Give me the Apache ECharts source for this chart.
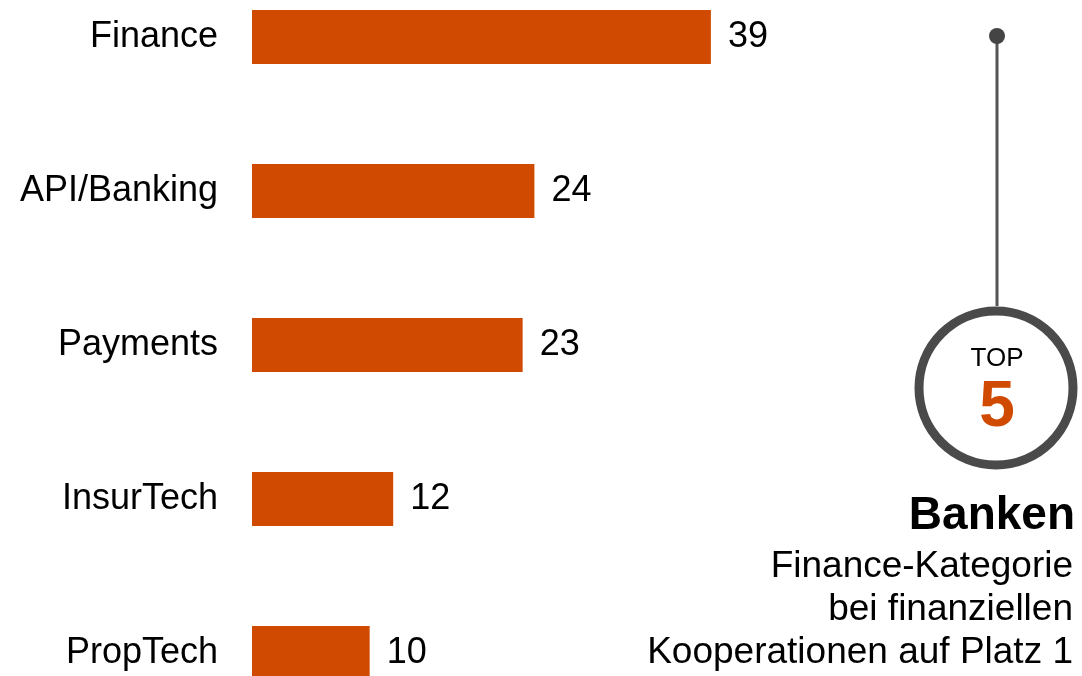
<!DOCTYPE html>
<html>
<head>
<meta charset="utf-8">
<script src="https://cdn.jsdelivr.net/npm/echarts@6/dist/echarts.min.js"></script>
<style>
  html, body { margin: 0; padding: 0; background: #fff; }
  #chart { width: 1082px; height: 676px; }
</style>
</head>
<body>
<div id="chart"></div>
<script>
const categories = ['Finance', 'API/Banking', 'Payments', 'InsurTech', 'PropTech'];
const values = [39, 24, 23, 12, 10];
const badgeTop = 'TOP';
const badgeNumber = '5';
const calloutTitle = 'Banken';
const calloutLines = ['Finance-Kategorie', 'bei finanziellen', 'Kooperationen auf Platz 1'];

const orange = '#D04A02';
const grey = '#4a4a4a';
const font = '"Liberation Sans", Arial, sans-serif';

const chart = echarts.init(document.getElementById('chart'));

const option = {
    backgroundColor: '#fff',
    animation: false,
    grid: {
        left: 252,
        top: -40,
        height: 770,
        width: 706,
        outerBoundsMode: 'none'
    },
    xAxis: {
        type: 'value',
        min: 0,
        max: 60,
        show: false
    },
    yAxis: {
        type: 'category',
        data: categories,
        inverse: true,
        axisLine: { show: false },
        axisTick: { show: false },
        axisLabel: {
            margin: 34,
            fontSize: 36,
            fontFamily: font,
            color: '#000'
        }
    },
    series: [
        {
            type: 'bar',
            data: values,
            barWidth: 54,
            itemStyle: { color: orange },
            label: {
                show: true,
                position: 'right',
                distance: 17,
                fontSize: 36,
                fontFamily: font,
                color: '#000'
            }
        }
    ],
    graphic: [
        // 연결선 + 점
        {
            type: 'line',
            shape: { x1: 997, y1: 36, x2: 997, y2: 306 },
            style: { stroke: '#555', lineWidth: 3 }
        },
        {
            type: 'circle',
            shape: { cx: 997, cy: 36, r: 8 },
            style: { fill: '#444' }
        },
        {
            type: 'circle',
            shape: { cx: 996, cy: 388, r: 77 },
            style: { fill: '#fff', stroke: grey, lineWidth: 9 }
        },
        {
            type: 'text',
            x: 997, y: 359,
            style: {
                text: badgeTop, fontSize: 26, fontFamily: font, fill: '#000',
                textAlign: 'center', textVerticalAlign: 'middle'
            }
        },
        {
            type: 'text',
            x: 997, y: 408,
            style: {
                text: badgeNumber, fontSize: 64, fontWeight: 'bold', fontFamily: font, fill: orange,
                textAlign: 'center', textVerticalAlign: 'middle'
            }
        },
        {
            type: 'text',
            x: 1075, y: 516,
            style: {
                text: calloutTitle, fontSize: 46, fontWeight: 'bold', fontFamily: font, fill: '#000',
                textAlign: 'right', textVerticalAlign: 'middle'
            }
        },
        ...calloutLines.map((t, i) => ({
            type: 'text',
            x: 1073, y: 567 + i * 43,
            style: {
                text: t, fontSize: 37, fontFamily: font, fill: '#000',
                textAlign: 'right', textVerticalAlign: 'middle'
            }
        }))
    ]
};

chart.setOption(option);
</script>
</body>
</html>
